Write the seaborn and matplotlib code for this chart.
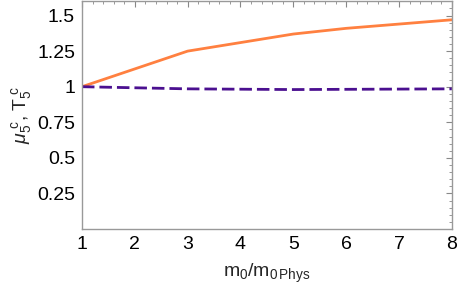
import numpy as np
import pandas as pd
import matplotlib
matplotlib.use("Agg")
import matplotlib.pyplot as plt
import seaborn as sns
from matplotlib.ticker import FixedLocator, AutoMinorLocator

# données
m_ratio = [1, 3, 5, 6, 7, 8]
mu5c = [1.0, 1.25, 1.37, 1.41, 1.44, 1.47]
m_ratio_T = [1, 3, 5, 8]
T5c = [1.0, 0.985, 0.98, 0.985]

y_ticks = [0.25, 0.5, 0.75, 1, 1.25, 1.5]
y_labels = ["0.25", "0.5", "0.75", "1", "1.25", "1.5"]
x_ticks = [1, 2, 3, 4, 5, 6, 7, 8]

sns.set_style("white")
plt.rcParams['font.family'] = ['Liberation Sans', 'DejaVu Sans']
plt.rcParams['mathtext.fontset'] = 'custom'
plt.rcParams['mathtext.rm'] = 'Liberation Sans'
plt.rcParams['mathtext.it'] = 'Liberation Sans:italic'

df_mu = pd.DataFrame({'x': m_ratio, 'y': mu5c})
df_T = pd.DataFrame({'x': m_ratio_T, 'y': T5c})

fig = plt.figure(figsize=(4.63, 2.86), dpi=100)
ax = fig.add_axes([0.177, 0.199, 0.799, 0.799])

sns.lineplot(data=df_mu, x='x', y='y', ax=ax, color='#FF8040', linewidth=2.0)
sns.lineplot(data=df_T, x='x', y='y', ax=ax, color='#4B1090', linewidth=2.0,
             linestyle=(0, (4.5, 1.8)))

ax.set_xlim(1, 8)
ax.set_ylim(0, 1.605)
ax.xaxis.set_major_locator(FixedLocator(x_ticks))
ax.yaxis.set_major_locator(FixedLocator(y_ticks))
ax.set_yticklabels(y_labels)
ax.xaxis.set_minor_locator(AutoMinorLocator(5))
ax.yaxis.set_minor_locator(AutoMinorLocator(5))

ax.tick_params(which='both', direction='in', top=True, right=True, color='#888888',
               labelsize=14, labelcolor='black')
ax.tick_params(which='major', length=4, width=0.8, pad=5)
ax.tick_params(which='minor', length=2, width=0.6)
for s in ax.spines.values():
    s.set_color('#999999')
    s.set_linewidth(1.0)

ax.set_xlabel(r"m$_0$/m$_{0\,\mathrm{Phys}}$", fontsize=14, labelpad=6)
ax.set_ylabel(r"$\mu_5^{\ \mathrm{c}}$, T$_5^{\ \mathrm{c}}$", fontsize=14, labelpad=2)

fig.savefig("out.png", dpi=100)
